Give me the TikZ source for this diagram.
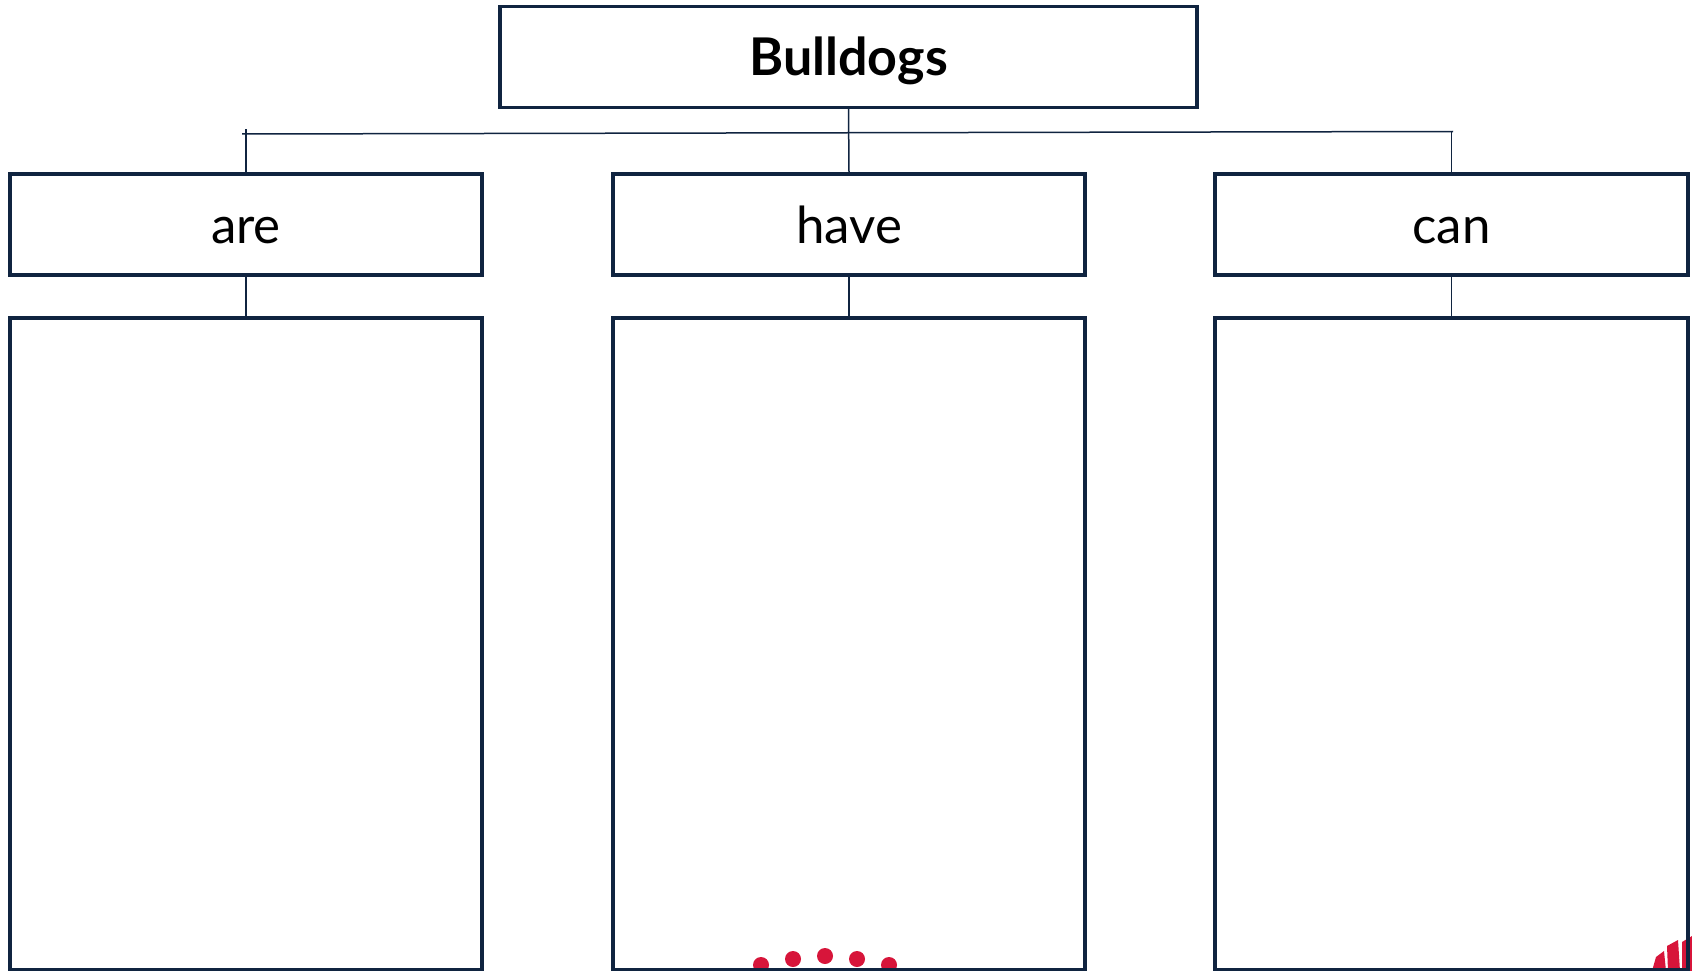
\documentclass[tikz,border=0pt]{standalone}
\usepackage{fontspec}
\setmainfont{Lato}
\definecolor{navy}{RGB}{16,36,64}
\definecolor{nswred}{RGB}{215,21,58}
\begin{document}
\begin{tikzpicture}[x=1pt,y=-1pt,
  box/.style={draw=navy,line width=3.2pt,rectangle,inner sep=0pt},
  lbl/.style={font=\fontsize{51}{55}\selectfont,text=black,text height=50pt,text depth=12pt},
  conn/.style={draw=navy,line width=1.5pt}]
\useasboundingbox (0,0) rectangle (1692,971);
\clip (0,0) rectangle (1692,971);
\fill[white] (0,0) rectangle (1692,971);
% red decorations (behind boxes)
\foreach \x/\y in {730/978,761/965,793/959,825/956,857/959,889/965,919/978}
  \fill[nswred] (\x,\y) circle (8);
\fill[nswred] (1652,971) -- (1656,957) -- (1664,951) -- (1666,971) -- cycle;
\fill[nswred] (1668,971) -- (1667,946) -- (1678,940) -- (1680,971) -- cycle;
\fill[nswred] (1682,971) -- (1682,942) -- (1692,936) -- (1692,971) -- cycle;
% nodes
\node[box,minimum width=697,minimum height=101,lbl,font=\fontsize{52}{56}\selectfont\bfseries,text height=50pt,text depth=13pt] (top) at (848.5,57) {Bulldogs};
\node[box,minimum width=472,minimum height=101,lbl] (are) at (246,224.5) {are};
\node[box,minimum width=472,minimum height=101,lbl] (have) at (849,224.5) {have};
\node[box,minimum width=473,minimum height=101,lbl] (can) at (1451.5,224.5) {can};
\node[box,minimum width=472,minimum height=652] (areBox) at (246,644) {};
\node[box,minimum width=472,minimum height=652] (haveBox) at (849,644) {};
\node[box,minimum width=473,minimum height=652] (canBox) at (1451.5,644) {};
% connectors
\coordinate (hl) at (242,134);
\coordinate (hr) at (1453,131.5);
\coordinate (tickTop) at (246,129);
\draw[conn] (hl) -- (hr);
\draw[conn] (top.south) -- (have.north);
\draw[conn] (are.north) -- (are.north |- tickTop);
\draw[conn] (can.north) -- (can.north |- hr);
\draw[conn] (are.south) -- (areBox.north);
\draw[conn] (have.south) -- (haveBox.north);
\draw[conn] (can.south) -- (canBox.north);
\end{tikzpicture}
\end{document}
